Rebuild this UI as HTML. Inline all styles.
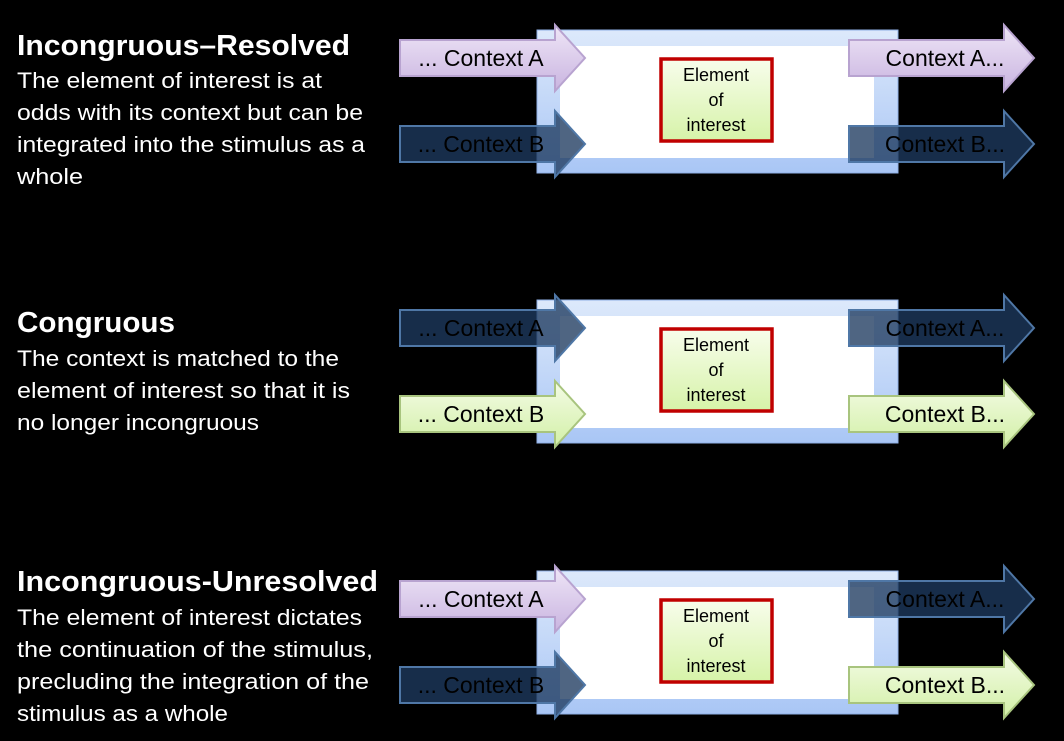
<!DOCTYPE html>
<html><head><meta charset="utf-8"><style>
html,body{margin:0;padding:0;background:#000;}
svg{display:block;}
text{font-family:"Liberation Sans",sans-serif;}
</style></head><body>
<svg id="s" width="1064" height="741" viewBox="0 0 1064 741">
<defs>
<linearGradient id="gP" x1="0" y1="0" x2="0" y2="1"><stop offset="0" stop-color="#efe6f7"/><stop offset="1" stop-color="#c9b4e0"/></linearGradient>
<linearGradient id="gG" x1="0" y1="0" x2="0" y2="1"><stop offset="0" stop-color="#f4fbe6"/><stop offset="1" stop-color="#d2f0a6"/></linearGradient>
<linearGradient id="gE" x1="0" y1="0" x2="0" y2="1"><stop offset="0" stop-color="#f8fdec"/><stop offset="1" stop-color="#d6f3a8"/></linearGradient>
<linearGradient id="gF" x1="0" y1="0" x2="0" y2="1"><stop offset="0" stop-color="#dde9fb"/><stop offset="1" stop-color="#a9c6f5"/></linearGradient>
</defs>
<g id="root"></g>
</svg>
<script>
const panels = [
 {off:0, title:"Incongruous\u2013Resolved", tb:55, ttw:333, lines:["The element of interest is at","odds with its context but can be","integrated into the stimulus as a","whole"], ly:88, kinds:["P","D","P","D"], tw:[305,346,348,66]},
 {off:270, title:"Congruous", tb:332, ttw:158, lines:["The context is matched to the","element of interest so that it is","no longer incongruous"], ly:366, kinds:["D","G","D","G"], tw:[322,333,242]},
 {off:541, title:"Incongruous-Unresolved", tb:591, ttw:361, lines:["The element of interest dictates","the continuation of the stimulus,","precluding the integration of the","stimulus as a whole"], ly:625, kinds:["P","D","D","G"], tw:[345,356,352,211]}
];
const ns="http://www.w3.org/2000/svg";
const root=document.getElementById('root');
function mk(tag,attrs,parent){const e=document.createElementNS(ns,tag);for(const k in attrs)e.setAttribute(k,attrs[k]);(parent||root).appendChild(e);return e;}
const fills={P:"url(#gP)",G:"url(#gG)",D:"rgba(30,58,95,0.78)"};
const strokes={P:"#b8a3d0",G:"#a8c47e",D:"#4f77a6"};
function arrow(g,x0,cy,kind,label,right,name){
  const bx=x0+155, hx=bx+30;
  const p=mk('path',{d:`M${x0},${cy-18} L${bx},${cy-18} L${bx},${cy-33} L${hx},${cy} L${bx},${cy+33} L${bx},${cy+18} L${x0},${cy+18} Z`,fill:fills[kind],stroke:strokes[kind],'stroke-width':2},g);
  
  
  const t=mk('text',{x:right?x0+96:x0+81,y:cy+8,'font-size':23,fill:'#000','text-anchor':'middle'},g);
  
  
  t.textContent=label;
}
panels.forEach((pn,i)=>{
  const o=pn.off;
  const g=mk('g',{});
  
  
  const tt=mk('text',{x:17,y:pn.tb,'font-size':29,'font-weight':'bold',fill:'#fff',textLength:pn.ttw,lengthAdjust:'spacingAndGlyphs'},g);
  
  
  tt.textContent=pn.title;
  pn.lines.forEach((l,j)=>{
    const t=mk('text',{x:17,y:pn.ly+j*32,'font-size':22,fill:'#fff',textLength:pn.tw[j],lengthAdjust:'spacingAndGlyphs'},g);
    
    
    t.textContent=l;
  });
  const fr=mk('rect',{x:537,y:30+o,width:361,height:143,fill:'url(#gF)',stroke:'#8fb0e6','stroke-width':1},g);
  
  
  const wr=mk('rect',{x:560,y:46+o,width:314,height:112,fill:'#fff'},g);
  
  
  const er=mk('rect',{x:661,y:59+o,width:111,height:82,fill:'url(#gE)',stroke:'#c00000','stroke-width':3.5},g);
  
  
  ["Element","of","interest"].forEach((w,j)=>{
    const t=mk('text',{x:716,y:81+o+j*25,'font-size':18,fill:'#000','text-anchor':'middle'},g);
    
    
    t.textContent=w;
  });
  const k=pn.kinds;
  arrow(g,400,58+o,k[0],"... Context A",false,'left-context-a');
  arrow(g,400,144+o,k[1],"... Context B",false,'left-context-b');
  arrow(g,849,58+o,k[2],"Context A...",true,'right-context-a');
  arrow(g,849,144+o,k[3],"Context B...",true,'right-context-b');
});
</script>
</body></html>
